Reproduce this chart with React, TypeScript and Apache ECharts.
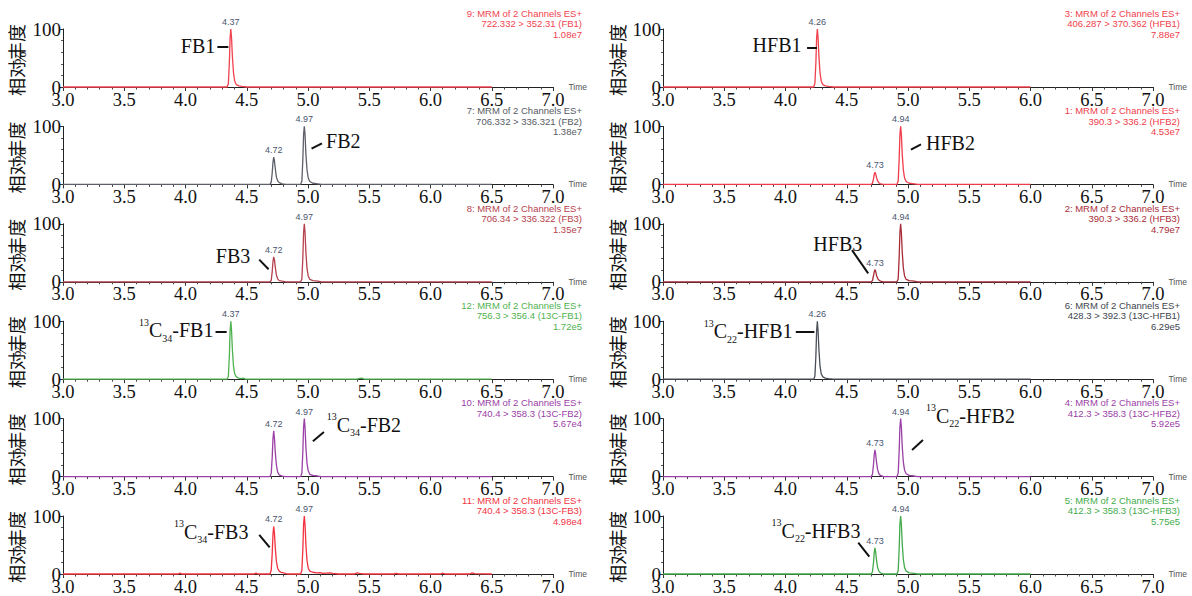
import React, { useEffect, useRef } from "react";
import * as echarts from "echarts";

// ---------- axis definitions ----------
const X_MIN = 3.0;
const X_MAX = 7.0;
const X_STEP = 0.5;
const xTickLabels = ["3.0", "3.5", "4.0", "4.5", "5.0", "5.5", "6.0", "6.5", "7.0"];
const Y_MIN = 0;
const Y_MAX = 100;
const yTickLabels = ["0", "100"];

// ---------- chromatogram data: [time (min), relative abundance (%)] ----------
const fb1 = [[3.0, 0], [4.34, 0], [4.35, 6], [4.358, 42], [4.364, 84], [4.37, 100], [4.376, 84], [4.383, 52], [4.392, 24], [4.402, 10], [4.415, 4], [4.435, 2], [4.46, 1], [4.5, 0], [6.5, 0]];
const fb2 = [[3.0, 0], [4.69, 0], [4.7, 4], [4.708, 20], [4.714, 38], [4.72, 47], [4.726, 41], [4.733, 27], [4.742, 13], [4.752, 6], [4.765, 3], [4.79, 1], [4.82, 0], [4.94, 0], [4.95, 6], [4.958, 44], [4.964, 86], [4.97, 100], [4.976, 85], [4.983, 52], [4.992, 25], [5.002, 11], [5.015, 5], [5.04, 2], [5.08, 1], [5.11, 0], [6.5, 0]];
const fb3 = [[3.0, 0], [4.69, 0], [4.7, 3], [4.708, 18], [4.714, 35], [4.72, 43], [4.726, 38], [4.733, 25], [4.742, 12], [4.752, 5], [4.765, 2], [4.79, 1], [4.82, 0], [4.94, 0], [4.95, 5], [4.958, 42], [4.964, 85], [4.97, 100], [4.976, 84], [4.983, 50], [4.992, 23], [5.002, 10], [5.015, 4], [5.04, 2], [5.08, 1], [5.11, 0], [6.5, 0]];
const c13fb1 = [[3.0, 0], [4.34, 0], [4.35, 5], [4.358, 40], [4.364, 83], [4.37, 100], [4.376, 83], [4.383, 50], [4.392, 22], [4.402, 9], [4.415, 4], [4.435, 2], [4.455, 1], [4.47, 2], [4.49, 0], [5.4, 0], [5.42, 1.5], [5.44, 2], [5.46, 0], [6.5, 0]];
const c13fb2 = [[3.0, 0], [4.69, 0], [4.7, 6], [4.708, 34], [4.714, 65], [4.72, 79], [4.726, 66], [4.733, 42], [4.742, 20], [4.752, 8], [4.765, 3], [4.79, 1], [4.82, 0], [4.94, 0], [4.95, 6], [4.958, 44], [4.964, 86], [4.97, 100], [4.976, 84], [4.983, 50], [4.992, 23], [5.002, 10], [5.015, 4], [5.04, 2], [5.08, 1], [5.11, 0], [6.5, 0]];
const c13fb3 = [[3.0, 0], [3.94, 0], [3.955, 1.5], [3.97, 0], [4.56, 0], [4.575, 1.5], [4.59, 0], [4.69, 0], [4.7, 7], [4.708, 36], [4.714, 68], [4.72, 82], [4.726, 70], [4.733, 45], [4.742, 22], [4.752, 10], [4.765, 5], [4.78, 3], [4.8, 2], [4.83, 0], [4.94, 0], [4.95, 6], [4.958, 44], [4.964, 86], [4.97, 100], [4.976, 84], [4.983, 50], [4.992, 23], [5.002, 10], [5.015, 5], [5.04, 3], [5.07, 2], [5.1, 2.5], [5.12, 1], [5.18, 2], [5.2, 1], [5.25, 0], [5.38, 0], [5.4, 2], [5.42, 1], [5.45, 0], [5.7, 0], [5.72, 1], [5.74, 0], [6.08, 0], [6.1, 1.5], [6.12, 0], [6.32, 0], [6.34, 2], [6.36, 0.5], [6.5, 0]];
const hfb1 = [[3.0, 0], [4.23, 0], [4.24, 6], [4.248, 42], [4.254, 84], [4.26, 100], [4.266, 84], [4.273, 52], [4.282, 24], [4.292, 10], [4.305, 4], [4.325, 2], [4.35, 1], [4.39, 0], [6.0, 0]];
const hfb2 = [[3.0, 0], [4.7, 0], [4.71, 2], [4.718, 9], [4.724, 17], [4.73, 21], [4.736, 18], [4.743, 12], [4.752, 6], [4.762, 3], [4.775, 1], [4.8, 0], [4.91, 0], [4.92, 6], [4.928, 44], [4.934, 86], [4.94, 100], [4.946, 85], [4.953, 52], [4.962, 25], [4.972, 11], [4.985, 5], [5.01, 2], [5.05, 1], [5.08, 0], [6.0, 0]];
const hfb3 = [[3.0, 0], [4.7, 0], [4.71, 2], [4.718, 10], [4.724, 17], [4.73, 21], [4.736, 18], [4.743, 11], [4.752, 6], [4.762, 3], [4.775, 1], [4.8, 0], [4.91, 0], [4.92, 5], [4.928, 43], [4.934, 85], [4.94, 100], [4.946, 84], [4.953, 51], [4.962, 24], [4.972, 10], [4.985, 4], [5.01, 2], [5.05, 1], [5.08, 0], [6.0, 0]];
const c13hfb1 = [[3.0, 0], [4.23, 0], [4.24, 5], [4.248, 40], [4.254, 83], [4.26, 100], [4.266, 83], [4.273, 50], [4.282, 22], [4.292, 9], [4.305, 4], [4.325, 2], [4.35, 1], [4.39, 0], [6.0, 0]];
const c13hfb2 = [[3.0, 0], [4.7, 0], [4.71, 4], [4.718, 20], [4.724, 37], [4.73, 46], [4.736, 39], [4.743, 25], [4.752, 12], [4.762, 5], [4.775, 2], [4.8, 0], [4.91, 0], [4.92, 6], [4.928, 44], [4.934, 86], [4.94, 100], [4.946, 85], [4.953, 52], [4.962, 25], [4.972, 11], [4.985, 5], [5.01, 2], [5.05, 1], [5.08, 0], [6.0, 0]];
const c13hfb3 = [[3.0, 0], [4.7, 0], [4.71, 4], [4.718, 19], [4.724, 36], [4.73, 45], [4.736, 38], [4.743, 24], [4.752, 11], [4.762, 5], [4.775, 2], [4.8, 0], [4.91, 0], [4.92, 6], [4.928, 44], [4.934, 86], [4.94, 100], [4.946, 85], [4.953, 52], [4.962, 25], [4.972, 11], [4.985, 5], [5.01, 2], [5.05, 1], [5.08, 0], [6.0, 0]];

// labelled peaks: [retention time, relative abundance]
const fb1Peaks = [[4.37, 100]];
const fb2Peaks = [[4.72, 47], [4.97, 100]];
const fb3Peaks = [[4.72, 43], [4.97, 100]];
const c13fb1Peaks = [[4.37, 100]];
const c13fb2Peaks = [[4.72, 79], [4.97, 100]];
const c13fb3Peaks = [[4.72, 82], [4.97, 100]];
const hfb1Peaks = [[4.26, 100]];
const hfb2Peaks = [[4.73, 21], [4.94, 100]];
const hfb3Peaks = [[4.73, 21], [4.94, 100]];
const c13hfb1Peaks = [[4.26, 100]];
const c13hfb2Peaks = [[4.73, 46], [4.94, 100]];
const c13hfb3Peaks = [[4.73, 45], [4.94, 100]];

// channel header texts
const channelTitles = [
  "9: MRM of 2 Channels ES+", "7: MRM of 2 Channels ES+", "8: MRM of 2 Channels ES+",
  "12: MRM of 2 Channels ES+", "10: MRM of 2 Channels ES+", "11: MRM of 2 Channels ES+",
  "3: MRM of 2 Channels ES+", "1: MRM of 2 Channels ES+", "2: MRM of 2 Channels ES+",
  "6: MRM of 2 Channels ES+", "4: MRM of 2 Channels ES+", "5: MRM of 2 Channels ES+",
];
const channelTransitions = [
  "722.332 > 352.31 (FB1)", "706.332 > 336.321 (FB2)", "706.34 > 336.322 (FB3)",
  "756.3 > 356.4 (13C-FB1)", "740.4 > 358.3 (13C-FB2)", "740.4 > 358.3 (13C-FB3)",
  "406.287 > 370.362 (HFB1)", "390.3 > 336.2 (HFB2)", "390.3 > 336.2 (HFB3)",
  "428.3 > 392.3 (13C-HFB1)", "412.3 > 358.3 (13C-HFB2)", "412.3 > 358.3 (13C-HFB3)",
];
const channelIntensities = ["1.08e7", "1.38e7", "1.35e7", "1.72e5", "5.67e4", "4.98e4", "7.88e7", "4.53e7", "4.79e7", "6.29e5", "5.92e5", "5.75e5"];
const compoundLabels = [
  "{m|FB1}", "{m|FB2}", "{m|FB3}",
  "{sup|13}{m|C}{sub|34}{m|-FB1}", "{sup|13}{m|C}{sub|34}{m|-FB2}", "{sup|13}{m|C}{sub|34}{m|-FB3}",
  "{m|HFB1}", "{m|HFB2}", "{m|HFB3}",
  "{sup|13}{m|C}{sub|22}{m|-HFB1}", "{sup|13}{m|C}{sub|22}{m|-HFB2}", "{sup|13}{m|C}{sub|22}{m|-HFB3}",
];
const yAxisTitle = "相对丰度";

const seriesPoints = [fb1, fb2, fb3, c13fb1, c13fb2, c13fb3, hfb1, hfb2, hfb3, c13hfb1, c13hfb2, c13hfb3];
const seriesPeaks = [fb1Peaks, fb2Peaks, fb3Peaks, c13fb1Peaks, c13fb2Peaks, c13fb3Peaks, hfb1Peaks, hfb2Peaks, hfb3Peaks, c13hfb1Peaks, c13hfb2Peaks, c13hfb3Peaks];

// ---------- styles & layout ----------
const panelColors = ["#f0434f", "#5d6068", "#b5424e", "#4fb24f", "#9a40a6", "#f2333f", "#f0404c", "#f03c4a", "#a82c38", "#4a4f58", "#9a40a6", "#43ab4b"];
const headerColors = ["#f0434f", "#555a63", "#b5424e", "#4fb24f", "#9a40a6", "#f2333f", "#f0404c", "#f03c4a", "#a82c38", "#40454e", "#9a40a6", "#43ab4b"];

// annotation anchors (in data space of each panel): text anchor, side, pixel offset, leader line
const annotationLayout = [
  { at: [4.255, 70], side: "left", offset: [0, 0], line: [[4.26, 70], [4.35, 70]] },
  { at: [5.135, 74], side: "right", offset: [0, 0], line: [[5.029, 61.7], [5.114, 70.9]] },
  { at: [4.541, 44], side: "left", offset: [0, 0], line: [[4.602, 38.3], [4.678, 21.7]] },
  { at: [4.24, 84], side: "left", offset: [0, 0], line: [[4.245, 81], [4.336, 81]] },
  { at: [5.14, 89], side: "right", offset: [0, 0], line: [[5.04, 61], [5.13, 77]] },
  { at: [4.526, 73], side: "left", offset: [0, 0], line: [[4.602, 67.6], [4.687, 45.9]] },
  { at: [4.143, 72], side: "left", offset: [0, 0], line: [[4.176, 67], [4.257, 67]] },
  { at: [5.135, 72], side: "right", offset: [0, 0], line: [[5.024, 60], [5.106, 69]] },
  { at: [4.639, 66], side: "left", offset: [0, 0], line: [[4.543, 54.5], [4.675, 14.6]] },
  { at: [4.07, 83], side: "left", offset: [0, 0], line: [[4.084, 81], [4.236, 81]] },
  { at: [5.135, 100], side: "right", offset: [0, -3], line: [[5.033, 46], [5.122, 63]] },
  { at: [4.624, 75], side: "left", offset: [0, 0], line: [[4.594, 54], [4.684, 30]] },
];

const GRID_LEFT = [63, 663];
const GRID_WIDTH = 490;
const GRID_TOP0 = 29;
const ROW_STEP = 97.4;
const GRID_HEIGHT = 58;
const HEADER_RIGHT = [582, 1180];
const YTITLE_X = [16, 617];

const SERIF = "'Liberation Serif', 'Times New Roman', serif";
const SANS = "'Liberation Sans', Arial, sans-serif";

const RICH = {
  m: { fontFamily: SERIF, fontSize: 20, color: "#111", lineHeight: 26 },
  sup: { fontFamily: SERIF, fontSize: 10, color: "#111", lineHeight: 13, verticalAlign: "top" },
  sub: { fontFamily: SERIF, fontSize: 10, color: "#111", lineHeight: 13, verticalAlign: "bottom" },
};

function buildOption() {
  const grid: any[] = [];
  const xAxis: any[] = [];
  const yAxis: any[] = [];
  const series: any[] = [];
  const graphic: any[] = [];

  for (let i = 0; i < 12; i++) {
    const col = Math.floor(i / 6);
    const row = i % 6;
    const top = GRID_TOP0 + ROW_STEP * row;
    grid.push({ left: GRID_LEFT[col], top, width: GRID_WIDTH, height: GRID_HEIGHT, containLabel: false });

    xAxis.push({
      type: "value",
      gridIndex: i,
      min: X_MIN,
      max: X_MAX,
      interval: X_STEP,
      name: "Time",
      nameLocation: "end",
      nameGap: 5,
      nameTextStyle: { fontFamily: SANS, fontSize: 8.5, color: "#555", padding: [0, 0, 3, 0] },
      axisLine: { show: true, onZero: false, lineStyle: { color: "#222", width: 1 } },
      axisTick: { show: true, length: 4, lineStyle: { color: "#333", width: 1 } },
      minorTick: { show: true, splitNumber: 5, length: 2.5, lineStyle: { color: "#444", width: 1 } },
      splitLine: { show: false },
      minorSplitLine: { show: false },
      axisLabel: {
        show: true,
        margin: 5,
        lineHeight: 15,
        fontFamily: SERIF,
        fontSize: 18.5,
        color: "#111",
        showMinLabel: true,
        showMaxLabel: true,
        formatter: (v: number) => xTickLabels[Math.round((v - X_MIN) / X_STEP)] ?? "",
      },
    });

    yAxis.push({
      type: "value",
      gridIndex: i,
      min: Y_MIN,
      max: Y_MAX,
      interval: Y_MAX - Y_MIN,
      name: "%",
      nameLocation: "middle",
      nameGap: 3,
      nameRotate: 90,
      nameTextStyle: { fontFamily: SERIF, fontSize: 16, color: "#111" },
      axisLine: { show: true, lineStyle: { color: "#222", width: 1 } },
      axisTick: { show: true, length: 3, lineStyle: { color: "#333" } },
      minorTick: { show: true, splitNumber: 5, length: 2, lineStyle: { color: "#555" } },
      splitLine: { show: false },
      minorSplitLine: { show: false },
      axisLabel: {
        margin: 2,
        lineHeight: 13,
        fontFamily: SERIF,
        fontSize: 19,
        color: "#111",
        formatter: (v: number) => (v === Y_MIN ? yTickLabels[0] : v === Y_MAX ? yTickLabels[1] : ""),
      },
    });

    const ann = annotationLayout[i];
    const peakMarks = seriesPeaks[i].map(([t, h]) => ({
      coord: [t, h],
      label: {
        show: true,
        position: "top",
        distance: 2,
        formatter: t.toFixed(2),
        fontFamily: SANS,
        fontSize: 9,
        color: "#4a5570",
      },
    }));

    series.push({
      type: "line",
      xAxisIndex: i,
      yAxisIndex: i,
      data: seriesPoints[i],
      showSymbol: false,
      symbol: "none",
      clip: false,
      z: 3,
      lineStyle: { color: panelColors[i], width: 1.3 },
      itemStyle: { color: panelColors[i] },
      markPoint: {
        silent: true,
        symbol: "rect",
        symbolSize: 1,
        itemStyle: { color: "rgba(0,0,0,0)" },
        data: [
          ...peakMarks,
          {
            coord: ann.at,
            label: {
              show: true,
              position: ann.side,
              distance: 1,
              offset: ann.offset,
              formatter: compoundLabels[i],
              rich: RICH,
            },
          },
        ],
      },
      markLine: {
        silent: true,
        symbol: ["none", "none"],
        label: { show: false },
        lineStyle: { color: "#111", width: 2, type: "solid" },
        data: [[{ coord: ann.line[0] }, { coord: ann.line[1] }]],
      },
    });

    graphic.push({
      type: "text",
      x: HEADER_RIGHT[col],
      y: top - 21,
      silent: true,
      style: {
        text: [channelTitles[i], channelTransitions[i], channelIntensities[i]].join("\n"),
        fill: headerColors[i],
        fontFamily: SANS,
        fontSize: 9.5,
        lineHeight: 10.5,
        align: "right",
        verticalAlign: "top",
      },
    });

    graphic.push({
      type: "text",
      x: YTITLE_X[col],
      y: top + 31,
      rotation: Math.PI / 2,
      silent: true,
      style: {
        text: yAxisTitle,
        fill: "#111",
        fontFamily: "'Noto Sans CJK SC', sans-serif",
        fontSize: 18,
        align: "center",
        verticalAlign: "middle",
      },
    });
  }

  return {
    animation: false,
    backgroundColor: "#ffffff",
    grid,
    xAxis,
    yAxis,
    series,
    graphic,
  };
}

export default function App() {
  const ref = useRef<HTMLDivElement>(null);
  useEffect(() => {
    document.body.style.margin = "0";
    if (!ref.current) return;
    const chart = echarts.init(ref.current, undefined, { renderer: "svg" });
    chart.setOption(buildOption() as any);
    return () => chart.dispose();
  }, []);
  return <div ref={ref} style={{ width: 1192, height: 596 }} />;
}
